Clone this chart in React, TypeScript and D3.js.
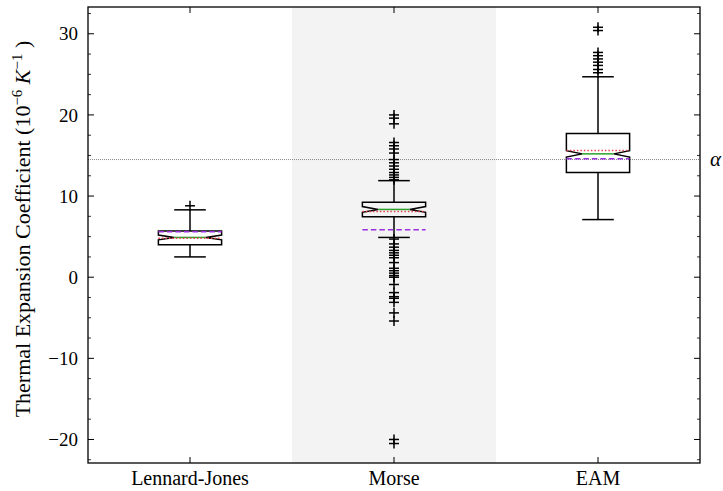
import React from "react";
import * as d3 from "d3";

const categories = ["Lennard-Jones", "Morse", "EAM"];
const q1 = [4.0, 7.45, 12.9];
const q3 = [5.7, 9.25, 17.7];
const medians = [4.9, 8.35, 15.2];
const notchHalf = [0.3, 0.35, 0.4];
const whiskerLo = [2.5, 4.9, 7.1];
const whiskerHi = [8.3, 11.9, 24.7];
const dottedStat = [4.8, 8.1, 15.6];
const dashedStat = [5.6, 5.85, 14.6];
const fliers = [
  [8.8],
  [20.0, 19.6, 18.9, 16.6, 16.2, 15.8, 15.3, 14.5, 14.1, 13.7, 13.3, 12.9, 12.6, 12.3, 12.0,
   4.7, 4.1, 3.7, 3.3, 3.0, 2.7, 2.4, 1.8, 1.1, 0.8, 0.5, 0.2, 0.0, -0.9, -1.9, -2.4, -2.6, -3.1, -4.4, -5.4,
   -20.0, -20.5],
  [30.8, 30.4, 27.7, 27.3, 26.9, 26.5, 26.1, 25.6, 25.2],
];
const refAlpha = 14.5;
const yTicks = [-20, -10, 0, 10, 20, 30];
const yDomain: [number, number] = [-22.9, 33.3];

export default function App() {
  const W = 723, H = 491;
  const L = 88, R = 700, T = 7, B = 463;
  const x = d3.scaleBand<string>().domain(categories).range([L, R]);
  const y = d3.scaleLinear().domain(yDomain).range([B, T]);
  const bw = x.bandwidth();
  const hw = bw * 0.155;
  const capHw = hw / 2;
  const minor = d3.range(-22.5, 33.3, 2.5).filter((v) => Math.abs(v % 10) > 1e-6);
  const font = "'Liberation Serif', 'DejaVu Serif', serif";
  const fmt = (v: number) => (v < 0 ? "\u2212" + Math.abs(v) : String(v));

  return (
    <svg width={W} height={H} style={{ position: "absolute", left: 0, top: 0 }} fontFamily={font}>
      <rect x={0} y={0} width={W} height={H} fill="#fff" />
      <rect x={x("Morse")!} y={T} width={bw} height={B - T} fill="#f3f3f3" />
      <line x1={L} x2={R} y1={y(refAlpha)} y2={y(refAlpha)} stroke="#888" strokeWidth={1} strokeDasharray="1,1" />
      <text x={710} y={y(refAlpha) + 6} fontSize={21} fontStyle="italic">α</text>

      {categories.map((c, i) => {
        const cx = x(c)! + bw / 2;
        const yq1 = y(q1[i]), yq3 = y(q3[i]), ym = y(medians[i]);
        const ynl = y(medians[i] - notchHalf[i]), ynh = y(medians[i] + notchHalf[i]);
        const path = `M${cx - hw},${yq1} L${cx + hw},${yq1} L${cx + hw},${ynl} L${cx + hw / 2},${ym} L${cx + hw},${ynh} L${cx + hw},${yq3} L${cx - hw},${yq3} L${cx - hw},${ynh} L${cx - hw / 2},${ym} L${cx - hw},${ynl} Z`;
        return (
          <g key={c}>
            <line x1={cx} x2={cx} y1={yq1} y2={y(whiskerLo[i])} stroke="#000" strokeWidth={1.5} />
            <line x1={cx} x2={cx} y1={yq3} y2={y(whiskerHi[i])} stroke="#000" strokeWidth={1.5} />
            <line x1={cx - capHw} x2={cx + capHw} y1={y(whiskerLo[i])} y2={y(whiskerLo[i])} stroke="#000" strokeWidth={1.5} />
            <line x1={cx - capHw} x2={cx + capHw} y1={y(whiskerHi[i])} y2={y(whiskerHi[i])} stroke="#000" strokeWidth={1.5} />
            <path d={path} fill="none" stroke="#000" strokeWidth={1.5} />
            <line x1={cx - hw / 2} x2={cx + hw / 2} y1={ym} y2={ym} stroke="#2ca02c" strokeWidth={1.5} />
            <line x1={cx - hw} x2={cx + hw} y1={y(dottedStat[i])} y2={y(dottedStat[i])} stroke="#e8404a" strokeWidth={1.5} strokeDasharray="1.5,2" />
            <line x1={cx - hw} x2={cx + hw} y1={y(dashedStat[i])} y2={y(dashedStat[i])} stroke="#9b30e0" strokeWidth={1.5} strokeDasharray="5.5,3" />
            {fliers[i].map((v, j) => (
              <g key={j}>
                <line x1={cx - 5} x2={cx + 5} y1={y(v)} y2={y(v)} stroke="#000" strokeWidth={1.5} />
                <line x1={cx} x2={cx} y1={y(v) - 5} y2={y(v) + 5} stroke="#000" strokeWidth={1.5} />
              </g>
            ))}
          </g>
        );
      })}

      <rect x={L} y={T} width={R - L} height={B - T} fill="none" stroke="#000" strokeWidth={1.3} />
      {yTicks.map((t) => (
        <g key={t}>
          <line x1={L} x2={L + 6} y1={y(t)} y2={y(t)} stroke="#000" strokeWidth={1} />
          <line x1={R} x2={R - 6} y1={y(t)} y2={y(t)} stroke="#000" strokeWidth={1} />
          <text x={L - 10} y={y(t)} dy="0.35em" textAnchor="end" fontSize={19}>{fmt(t)}</text>
        </g>
      ))}
      {minor.map((t) => (
        <g key={"m" + t}>
          <line x1={L} x2={L + 3} y1={y(t)} y2={y(t)} stroke="#000" strokeWidth={0.8} />
          <line x1={R} x2={R - 3} y1={y(t)} y2={y(t)} stroke="#000" strokeWidth={0.8} />
        </g>
      ))}
      {categories.map((c) => {
        const cx = x(c)! + bw / 2;
        return (
          <g key={"xt" + c}>
            <line x1={cx} x2={cx} y1={B} y2={B - 6} stroke="#000" strokeWidth={1} />
            <line x1={cx} x2={cx} y1={T} y2={T + 6} stroke="#000" strokeWidth={1} />
            <text x={cx} y={485} textAnchor="middle" fontSize={20}>{c}</text>
          </g>
        );
      })}
      <text transform={`translate(30,${(T + B) / 2 - 6}) rotate(-90)`} textAnchor="middle" fontSize={22}>
        Thermal Expansion Coefficient (10
        <tspan dy={-8} fontSize={15}>−6</tspan>
        <tspan dy={8} fontStyle="italic"> K</tspan>
        <tspan dy={-8} fontSize={15}>−1</tspan>
        <tspan dy={8}> )</tspan>
      </text>
    </svg>
  );
}
